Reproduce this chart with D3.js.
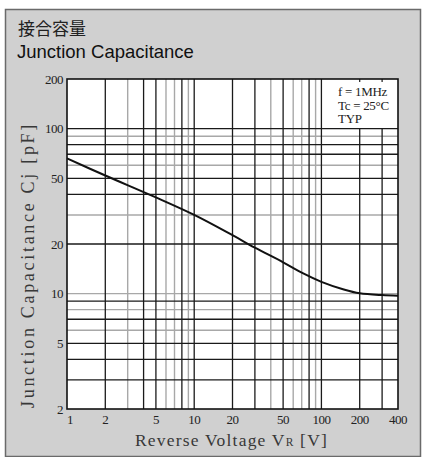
<!DOCTYPE html>
<html><head><meta charset="utf-8">
<script src="https://cdn.jsdelivr.net/npm/d3@7/dist/d3.min.js"></script>
<style>html,body{margin:0;padding:0;background:#fff;}svg{display:block;}</style>
</head><body>
<svg id="c" width="423" height="457"></svg>
<script>
// ---- data ----
const voltage = [1, 2, 5, 10, 20, 30, 50, 70, 100, 150, 200, 300, 400];
const capacitance = [66, 52, 38.3, 30, 22.6, 19, 15.5, 13.4, 11.8, 10.6, 10.05, 9.8, 9.73];
const xTickLabels = [1, 2, 5, 10, 20, 50, 100, 200, 400];
const yTickLabels = [200, 100, 50, 20, 10, 5, 2];
const xGridDark = [2, 4, 5, 8, 10, 20, 30, 50, 80, 100, 200, 300];
const xGridLight = [3, 6, 7, 9, 40, 60, 70, 90];
const yGridDark = [100, 80, 70, 50, 40, 20, 9, 7, 5, 4, 3];
const yGridLight = [90, 60, 30, 10, 8, 6];
const notes = ["f = 1MHz", "Tc = 25°C", "TYP"];

const svg = d3.select("#c");
const L = 67, R = 398, T = 79, B = 409;
const x = d3.scaleLog().domain([1, 400]).range([L, R]);
const y = d3.scaleLog().domain([2, 200]).range([B, T]);

// background panel
svg.append("rect").attr("x", 5.5).attr("y", 9.5).attr("width", 415).attr("height", 447)
  .attr("fill", "#d0d0d0").attr("stroke", "#6a6a6a").attr("stroke-width", 1.5);

// titles
svg.append("text").attr("x", 18).attr("y", 35).text("接合容量")
  .attr("font-family", "Noto Sans CJK JP").attr("font-size", 17).attr("fill", "#222");
svg.append("text").attr("x", 17).attr("y", 58).text("Junction Capacitance")
  .attr("font-family", "Liberation Sans, Arial").attr("font-size", 18.5).attr("fill", "#111");

// plot background
svg.append("rect").attr("x", L).attr("y", T).attr("width", R - L).attr("height", B - T).attr("fill", "#fff");

const g = svg.append("g");
function vline(v, dark) {
  const top = v > 100 ? y(100) : T;
  g.append("line").attr("x1", x(v)).attr("x2", x(v)).attr("y1", top).attr("y2", B)
    .attr("stroke", dark ? "#1a1a1a" : "#a8a8a8").attr("stroke-width", dark ? 1.3 : 1.4);
}
function hline(v, dark) {
  g.append("line").attr("x1", L).attr("x2", R).attr("y1", y(v)).attr("y2", y(v))
    .attr("stroke", dark ? "#1a1a1a" : "#a8a8a8").attr("stroke-width", dark ? 1.3 : 1.4);
}
xGridLight.forEach(v => vline(v, false));
yGridLight.forEach(v => hline(v, false));
xGridDark.forEach(v => vline(v, true));
yGridDark.forEach(v => hline(v, true));
[200, 300].forEach(v => g.append("line").attr("x1", x(v)).attr("x2", x(v)).attr("y1", T).attr("y2", T + 3)
  .attr("stroke", "#1a1a1a").attr("stroke-width", 1.2));

// frame
svg.append("rect").attr("x", L).attr("y", T).attr("width", R - L).attr("height", B - T)
  .attr("fill", "none").attr("stroke", "#111").attr("stroke-width", 1.6);

// curve
const pts = voltage.map((v, i) => [v, capacitance[i]]);
svg.append("path").datum(pts)
  .attr("d", d3.line().x(d => x(d[0])).y(d => y(d[1])).curve(d3.curveCatmullRom.alpha(0.5)))
  .attr("fill", "none").attr("stroke", "#111").attr("stroke-width", 2);

// tick labels
const serif = "Liberation Serif, Times New Roman, serif";
svg.append("g").selectAll("text").data(yTickLabels).join("text")
  .attr("x", 63).attr("y", d => y(d)).attr("dy", "0.35em").attr("text-anchor", "end")
  .attr("font-family", serif).attr("font-size", 13).attr("fill", "#222").attr("letter-spacing", -0.5)
  .text(d => d);
svg.append("g").selectAll("text").data(xTickLabels).join("text")
  .attr("x", d => x(d) + (d === 1 ? 3 : 0)).attr("y", 424).attr("text-anchor", "middle")
  .attr("font-family", serif).attr("font-size", 13).attr("fill", "#222").attr("letter-spacing", -0.5)
  .text(d => d);

function fit(el, target) {
  const n = el.text().length;
  const len = el.node().getComputedTextLength();
  el.attr("letter-spacing", Math.max(-1, (target - len) / (n - 1)));
}

// axis titles
const xt = svg.append("text").attr("x", 135).attr("y", 446)
  .attr("font-family", serif).attr("font-size", 17.5).attr("fill", "#383838");
xt.append("tspan").text("Reverse Voltage  V");
xt.append("tspan").attr("font-size", 11.5).text("R");
xt.append("tspan").text(" [V]");
fit(xt, 193);

const yt = svg.append("text").attr("transform", "translate(34,408) rotate(-90)")
  .attr("font-family", serif).attr("font-size", 18).attr("fill", "#383838")
  .text("Junction Capacitance  Cj [pF]");
fit(yt, 286);

// notes
svg.append("g").selectAll("text").data(notes).join("text")
  .attr("x", 338).attr("y", (d, i) => 96 + i * 13.5)
  .attr("font-family", serif).attr("font-size", 13).attr("fill", "#222").attr("letter-spacing", -0.3)
  .text(d => d);
</script>
</body></html>
